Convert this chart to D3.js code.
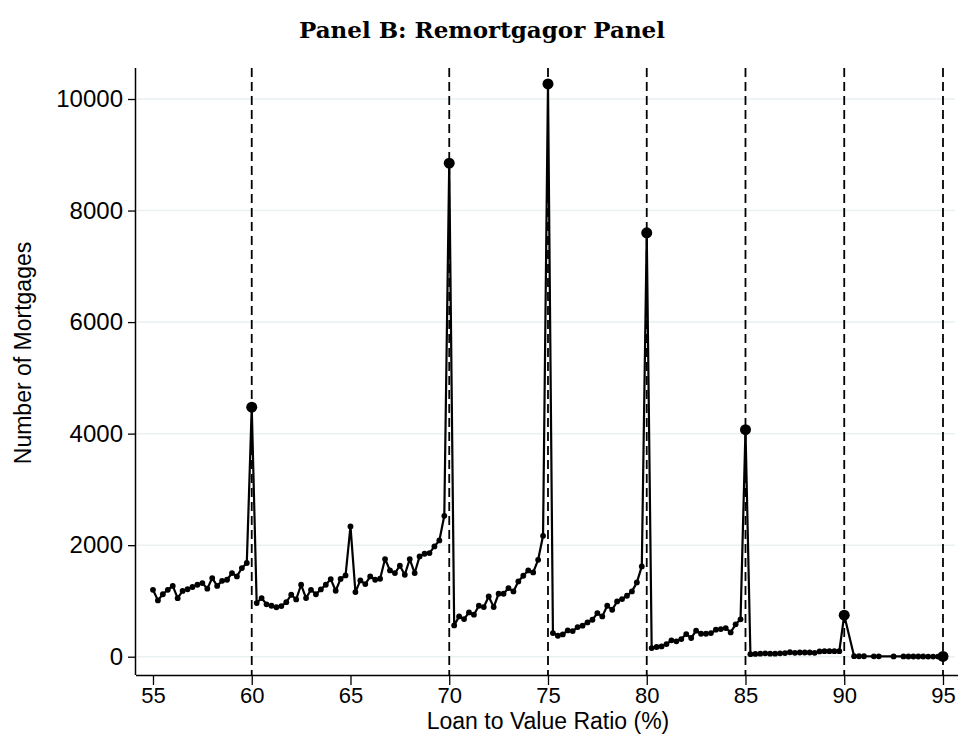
<!DOCTYPE html>
<html>
<head>
<meta charset="utf-8">
<script src="https://cdn.jsdelivr.net/npm/d3@7"></script>
<style>
  html, body { margin: 0; padding: 0; background: #fff; }
  svg { display: block; }
</style>
</head>
<body>
<svg id="chart" width="964" height="743"></svg>
<script>
// ---- Data ----
const ltv = [
  55,55.25,55.5,55.75,56,56.25,56.5,56.75,57,57.25,57.5,57.75,58,58.25,58.5,58.75,59,59.25,59.5,59.75,
  60,
  60.25,60.5,60.75,61,61.25,61.5,61.75,62,62.25,62.5,62.75,63,63.25,63.5,63.75,64,64.25,64.5,64.75,
  65,
  65.25,65.5,65.75,66,66.25,66.5,66.75,67,67.25,67.5,67.75,68,68.25,68.5,68.75,69,69.25,69.5,69.75,
  70,
  70.25,70.5,70.75,71,71.25,71.5,71.75,72,72.25,72.5,72.75,73,73.25,73.5,73.75,74,74.25,74.5,74.75,
  75,
  75.25,75.5,75.75,76,76.25,76.5,76.75,77,77.25,77.5,77.75,78,78.25,78.5,78.75,79,79.25,79.5,79.75,
  80,
  80.25,80.5,80.75,81,81.25,81.5,81.75,82,82.25,82.5,82.75,83,83.25,83.5,83.75,84,84.25,84.5,84.75,
  85,
  85.25,85.5,85.75,86,86.25,86.5,86.75,87,87.25,87.5,87.75,88,88.25,88.5,88.75,89,89.25,89.5,89.75,
  90,
  90.5,90.75,91,91.5,91.75,92.5,93,93.25,93.5,93.75,94,94.25,94.5,94.75,
  95
];
const mortgages = [
  1200,1010,1120,1200,1270,1050,1180,1210,1250,1290,1320,1220,1410,1270,1360,1380,1500,1440,1590,1680,
  4475,
  962,1051,940,914,887,908,977,1111,1028,1290,1051,1200,1120,1207,1290,1392,1183,1395,1458,
  2336,
  1159,1368,1302,1440,1380,1398,1751,1547,1500,1631,1470,1751,1500,1798,1846,1858,1977,2085,2527,
  8850,
  561,723,675,794,753,914,890,1081,890,1129,1129,1231,1171,1350,1452,1547,1512,1738,2168,
  10270,
  424,376,400,472,460,532,556,615,663,783,723,914,842,991,1034,1093,1171,1332,1619,
  7600,
  155,174,185,227,293,275,317,406,335,466,412,412,424,484,496,514,436,580,670,
  4070,
  45,50,55,60,55,55,60,65,80,70,75,75,75,70,95,100,100,100,100,
  745,
  10,8,8,6,6,5,5,4,4,4,4,3,3,3,
  5
];
const thresholds = [60, 70, 75, 80, 85, 90, 95];
const xTicks = [55, 60, 65, 70, 75, 80, 85, 90, 95];
const yTicks = [0, 2000, 4000, 6000, 8000, 10000];

const titleText = "Panel B: Remortgagor Panel";
const xTitle = "Loan to Value Ratio (%)";
const yTitle = "Number of Mortgages";

// ---- Layout ----
const svg = d3.select("#chart");
const mLeft = 136, mRight = 958, mTop = 68, mBottom = 675;

const x = d3.scaleLinear().domain([54.14, 95.76]).range([mLeft, mRight]);
const y = d3.scaleLinear().domain([-328, 10556]).range([mBottom, mTop]);

const data = ltv.map((v, i) => ({ x: v, y: mortgages[i], big: thresholds.includes(v) }));

const sans = "'Liberation Sans', Arial, sans-serif";

// gridlines
svg.append("g").selectAll("line").data(yTicks).join("line")
  .attr("x1", mLeft + 1).attr("x2", 955)
  .attr("y1", d => y(d)).attr("y2", d => y(d))
  .attr("stroke", "#e9f1f3").attr("stroke-width", 1.5);

// dashed threshold lines
svg.append("g").selectAll("line").data(thresholds).join("line")
  .attr("x1", d => x(d)).attr("x2", d => x(d))
  .attr("y1", mTop).attr("y2", mBottom)
  .attr("stroke", "#000").attr("stroke-width", 1.8)
  .attr("stroke-dasharray", "9,5");

// line
svg.append("path").datum(data)
  .attr("fill", "none").attr("stroke", "#000").attr("stroke-width", 2.2)
  .attr("stroke-linejoin", "round")
  .attr("d", d3.line().x(d => x(d.x)).y(d => y(d.y)));

// markers
svg.append("g").selectAll("circle").data(data).join("circle")
  .attr("cx", d => x(d.x)).attr("cy", d => y(d.y))
  .attr("r", d => d.big ? 5.5 : 2.9)
  .attr("fill", "#000");

// axes
const xAxis = d3.axisBottom(x).tickValues(xTicks).tickSize(10).tickPadding(2).tickFormat(d3.format("d"));
const gx = svg.append("g").attr("transform", `translate(0,${mBottom})`).call(xAxis);
gx.select(".domain").attr("d", `M${mLeft},0.5H${mRight}`).attr("stroke-width", 1.5);
gx.selectAll(".tick line").attr("stroke-width", 1.3);
gx.selectAll("text").attr("font-family", sans).attr("font-size", 22).attr("fill", "#000");

const yAxis = d3.axisLeft(y).tickValues(yTicks).tickSize(8).tickPadding(5).tickFormat(d3.format("d"));
const gy = svg.append("g").attr("transform", `translate(${mLeft},0)`).call(yAxis);
gy.select(".domain").attr("d", `M-0.5,${mTop}V${mBottom}`).attr("stroke-width", 1.5);
gy.selectAll(".tick line").attr("stroke-width", 1.3);
gy.selectAll("text").attr("font-family", sans).attr("font-size", 24).attr("fill", "#000");

// titles
svg.append("text").attr("x", 482).attr("y", 38).attr("text-anchor", "middle")
  .attr("font-family", "'DejaVu Serif', 'Liberation Serif', serif").attr("font-weight", "bold")
  .attr("font-size", 23).text(titleText);

svg.append("text").attr("x", 548).attr("y", 729).attr("text-anchor", "middle")
  .attr("font-family", sans).attr("font-size", 23).text(xTitle);

svg.append("text").attr("transform", "translate(31,353) rotate(-90)").attr("text-anchor", "middle")
  .attr("font-family", sans).attr("font-size", 23).text(yTitle);
</script>
</body>
</html>
